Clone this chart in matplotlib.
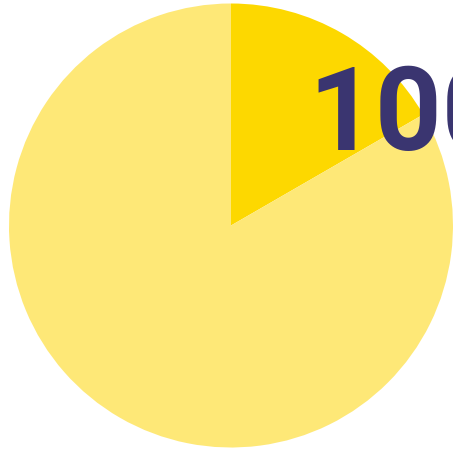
import matplotlib
matplotlib.use("Agg")
import matplotlib.pyplot as plt

# slice values (share of the circle)
values = [1, 5]
colors = ["#FDD800", "#FEE877"]
label = "100"

W, H = 453, 452
fig = plt.figure(figsize=(W / 100, H / 100), dpi=100)
ax = fig.add_axes([0, 0, 1, 1])

ax.pie(values, colors=colors, startangle=90, counterclock=False,
       center=(231, H - 226.5), radius=222,
       wedgeprops={"linewidth": 0})

ax.set_xlim(0, W)
ax.set_ylim(0, H)
ax.set_aspect("auto")
ax.axis("off")

ax.text(308, H - 150, label, fontsize=84, fontweight="bold",
        family=["Roboto", "DejaVu Sans"],
        color="#3A3570", ha="left", va="baseline")

fig.savefig("out.png", dpi=100)
